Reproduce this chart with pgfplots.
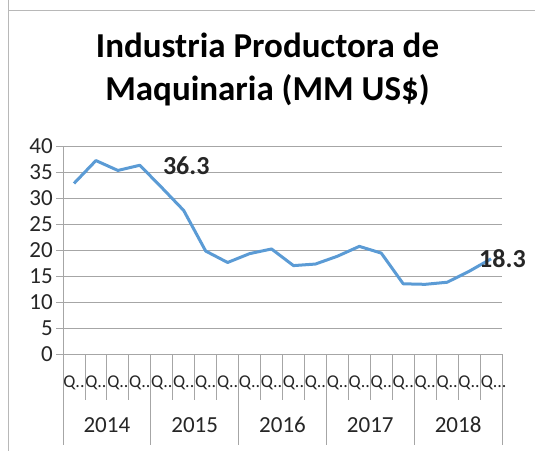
\documentclass[border=0pt]{standalone}
\usepackage{pgfplots}
\pgfplotsset{compat=1.18}
\usepackage{fontspec}
\setmainfont{Carlito}
\definecolor{excelblue}{HTML}{5B9BD5}
\definecolor{gridgray}{HTML}{A6A6A6}
\definecolor{txt}{HTML}{262626}
\begin{document}
\begin{tikzpicture}[x=1pt,y=1pt]
\useasboundingbox (0,0) rectangle (535,451);
% chart border (top and left visible)
\draw[gridgray!80, line width=0.9pt] (8,451) -- (8,441) -- (535,441);
\draw[gridgray!80, line width=0.9pt] (8,441) -- (8,0);
% title
\node[anchor=base, font=\bfseries\fontsize{35}{42}\selectfont, text=black] at (267.5,394) {Industria Productora de};
\node[anchor=base, font=\bfseries\fontsize{35}{42}\selectfont, text=black] at (267.5,351) {Maquinaria (MM US\$)};
\begin{axis}[
  at={(63pt,97pt)}, anchor=south west,
  scale only axis, width=439pt, height=208pt,
  xmin=0, xmax=20, ymin=0, ymax=40,
  ytick={0,5,...,40},
  xtick=\empty,
  tick align=outside, ytick pos=left,
  major tick length=7pt,
  y tick style={gridgray, line width=0.9pt},
  ymajorgrids, grid style={gridgray, line width=0.9pt},
  axis x line*=bottom, axis y line*=left,
  axis line style={gridgray, line width=0.9pt, -},
  /pgf/number format/assume math mode=true,
  yticklabel style={font=\fontsize{23}{27}\selectfont, text=txt, inner sep=0pt, xshift=-3pt},
  clip=false,
]
\addplot[excelblue, line width=3pt, line join=round, mark=none] coordinates {
  (0.5,32.8) (1.5,37.2) (2.5,35.3) (3.5,36.3)
  (4.5,32.0) (5.5,27.6) (6.5,19.8) (7.5,17.6)
  (8.5,19.3) (9.5,20.2) (10.5,17.0) (11.5,17.3)
  (12.5,18.8) (13.5,20.7) (14.5,19.4) (15.5,13.5)
  (16.5,13.4) (17.5,13.8) (18.5,15.9) (19.5,18.3)
};
\node[anchor=west, font=\bfseries\fontsize{26}{30}\selectfont, text=txt, inner sep=0pt] at (axis cs:3.5,36.3) [xshift=23pt] {36.3};
\node[anchor=west, font=\bfseries\fontsize{26}{30}\selectfont, text=txt, inner sep=0pt] at (axis cs:19.5,18.3) [xshift=-12pt] {18.3};
\pgfplotsinvokeforeach{0,...,20}{
  \draw[gridgray, line width=0.9pt] (axis cs:#1,0) -- ++(0,-46pt);
}
\pgfplotsinvokeforeach{0,4,...,20}{
  \draw[gridgray, line width=0.9pt] (axis cs:#1,0) -- ++(0,-91pt);
}
\pgfplotsinvokeforeach{0,...,18}{
  \node[font=\fontsize{18}{21}\selectfont, text=txt, inner sep=0pt] at (axis cs:#1+0.5,0) [yshift=-29pt] {Q..};
}
\node[font=\fontsize{18}{21}\selectfont, text=txt, inner sep=0pt, anchor=west] at (axis cs:19,0) [yshift=-29pt, xshift=0.5pt] {Q...};
\node[font=\fontsize{23}{27}\selectfont, text=txt, inner sep=0pt] at (axis cs:2,0) [yshift=-71pt] {2014};
\node[font=\fontsize{23}{27}\selectfont, text=txt, inner sep=0pt] at (axis cs:6,0) [yshift=-71pt] {2015};
\node[font=\fontsize{23}{27}\selectfont, text=txt, inner sep=0pt] at (axis cs:10,0) [yshift=-71pt] {2016};
\node[font=\fontsize{23}{27}\selectfont, text=txt, inner sep=0pt] at (axis cs:14,0) [yshift=-71pt] {2017};
\node[font=\fontsize{23}{27}\selectfont, text=txt, inner sep=0pt] at (axis cs:18,0) [yshift=-71pt] {2018};
\end{axis}
\end{tikzpicture}
\end{document}
